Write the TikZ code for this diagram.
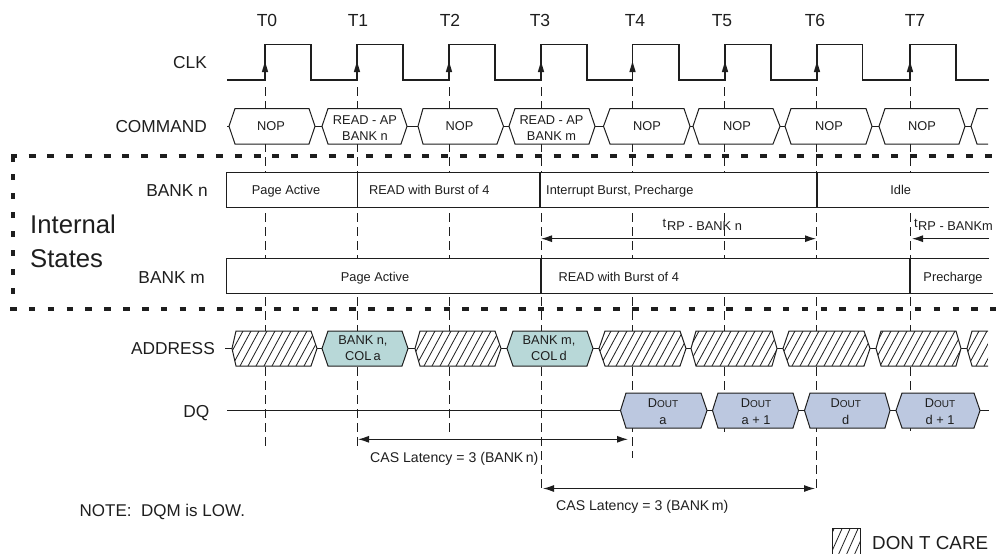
\documentclass[tikz,border=0pt]{standalone}
\usepackage{fontspec}
\setmainfont{Liberation Sans}
\usetikzlibrary{arrows.meta}
\definecolor{ink}{HTML}{1E1E1E}
\definecolor{tealfill}{HTML}{B8D8D8}
\definecolor{bluefill}{HTML}{BCC8E0}
\newcommand\fsz[1]{\fontsize{#1}{#1}\selectfont}
\newcommand\smallout{{\fsz{10}OUT}}
% \bushex{x tip L}{x top L}{x top R}{x tip R}{y top}{y bottom}{fill}
\newcommand\bushex[7]{%
  \filldraw[busline,fill=#7] (#1,{(#5+#6)/2}) -- (#2,#5) -- (#3,#5) -- (#4,{(#5+#6)/2}) -- (#3,#6) -- (#2,#6) -- cycle;}
\newcommand\hatchlines[2]{%
  \foreach \hx in {200,208,...,1016} {\draw[hatchline] (\hx,#2) -- (\hx+19,#1);}}
\newcommand\hatchhex[6]{%
  \filldraw[busline,fill=white] (#1,{(#5+#6)/2}) -- (#2,#5) -- (#3,#5) -- (#4,{(#5+#6)/2}) -- (#3,#6) -- (#2,#6) -- cycle;
  \begin{scope}
    \clip (#1,{(#5+#6)/2}) -- (#2,#5) -- (#3,#5) -- (#4,{(#5+#6)/2}) -- (#3,#6) -- (#2,#6) -- cycle;
    \hatchlines{#5}{#6}
  \end{scope}}
\tikzset{
  busline/.style={draw=ink,line width=1pt,line join=miter},
  hatchline/.style={draw=ink,line width=0.8pt},
  clockline/.style={draw=ink,line width=1.1pt},
  tickline/.style={draw=ink,line width=0.9pt,dash pattern=on 9pt off 5pt},
  statebox/.style={draw=ink,line width=1pt},
  divider/.style={draw=ink,line width=1.2pt},
  thickdivider/.style={draw=ink,line width=1.9pt},
  regionline/.style={draw=ink,line width=4pt},
  span/.style={draw=ink,line width=1.1pt,{Latex[length=11pt,width=7pt]}-{Latex[length=11pt,width=7pt]}},
  spanright/.style={draw=ink,line width=1.1pt,-{Latex[length=11pt,width=7pt]}},
  tick/.style={inner sep=0pt,anchor=base,font=\fsz{17.5},text=ink},
  sig/.style={inner sep=0pt,anchor=base east,font=\fsz{17.3},text=ink},
  lab/.style={inner sep=0pt,anchor=base,font=\fsz{12.8},text=ink,align=center},
  labl/.style={inner sep=0pt,anchor=base west,font=\fsz{12.8},text=ink},
  note/.style={inner sep=0pt,anchor=base west,font=\fsz{14.1},text=ink}
}
\begin{document}
\begin{tikzpicture}[x=1pt,y=-1pt]
\useasboundingbox (0,0) rectangle (996,554);
\clip (0,0) rectangle (996,554);
% dashed tick lines
\draw[tickline] (265,87) -- (265,447);
\draw[tickline] (357,87) -- (357,448);
\draw[tickline] (449,87) -- (449,435);
\draw[tickline] (541,87) -- (541,490);
\draw[tickline] (632.5,87) -- (632.5,458);
\draw[tickline] (724.5,87) -- (724.5,435);
\draw[tickline] (816.5,87) -- (816.5,492);
\draw[tickline] (910,87) -- (910,431);
% tick labels
\node[tick] (lt0) at (267,26) {T0};
\node[tick] (lt1) at (358,26) {T1};
\node[tick] (lt2) at (450,26) {T2};
\node[tick] (lt3) at (540,26) {T3};
\node[tick] (lt4) at (635,26) {T4};
\node[tick] (lt5) at (722,26) {T5};
\node[tick] (lt6) at (815,26) {T6};
\node[tick] (lt7) at (915,26) {T7};
% clock
\draw[clockline] (227,80) -- (265,80) -- (265,44.5) -- (311,44.5) -- (311,80)
  -- (357,80) -- (357,44.5) -- (403,44.5) -- (403,80)
  -- (449,80) -- (449,44.5) -- (495,44.5) -- (495,80)
  -- (541,80) -- (541,44.5) -- (587,44.5) -- (587,80)
  -- (632.5,80) -- (632.5,44.5) -- (679,44.5) -- (679,80)
  -- (725,80) -- (725,44.5) -- (771,44.5) -- (771,80)
  -- (817,80) -- (817,44.5) -- (862.5,44.5) -- (862.5,80)
  -- (910,80) -- (910,44.5) -- (956,44.5) -- (956,80) -- (989,80);
\foreach \xx in {265,357,449,541,632.5,725,817,910}{
  \fill[ink] (\xx,61.5) -- (\xx+3.2,72) -- (\xx-3.2,72) -- cycle;
}
\node[sig] (clk) at (207,68) {CLK};
% command bus
\node[sig] (command) at (207,132) {COMMAND};
\draw[busline] (227,126.25) -- (971,126.25);
\bushex{229}{235}{309}{315}{108.5}{144}{white}
\bushex{322}{328}{401}{407}{108.5}{144}{white}
\bushex{418}{423}{497}{503.5}{108.5}{144}{white}
\bushex{509}{515}{589}{595}{108.5}{144}{white}
\bushex{603.5}{610}{684}{690}{108.5}{144}{white}
\bushex{693}{699}{773}{780}{108.5}{144}{white}
\bushex{785}{791}{866}{872}{108.5}{144}{white}
\bushex{879}{885}{959}{965}{108.5}{144}{white}
\filldraw[busline,fill=white] (988,108.5) -- (977,108.5) -- (971,126.25) -- (977,144) -- (988,144);
\node[lab] (c0) at (271,130) {NOP};
\node[lab] (c1) at (365,140) {READ - AP\\[3pt]BANK n};
\node[lab] (c2) at (459.5,130) {NOP};
\node[lab] (c3) at (551.5,140) {READ - AP\\[3pt]BANK m};
\node[lab] (c4) at (647,130) {NOP};
\node[lab] (c5) at (737,130) {NOP};
\node[lab] (c6) at (829,130) {NOP};
\node[lab] (c7) at (922,130) {NOP};
% bank n
\node[sig] (bankn) at (208,196) {BANK n};
\fill[white] (226,172.3) rectangle (989,207.5);
\draw[statebox] (989,172.3) -- (226,172.3) -- (226,207.5) -- (989,207.5);
\draw[divider] (357.7,172.3) -- (357.7,207.5);
\draw[divider] (540,172.3) -- (540,207.5);
\draw[thickdivider] (817,172.3) -- (817,207.5);
\node[lab] (n1) at (286,194) {Page Active};
\node[labl] (n2) at (369,194) {READ with Burst of 4};
\node[labl] (n3) at (546,194) {Interrupt Burst, Precharge};
\node[lab] (n4) at (900.7,194) {Idle};
% tRP
\coordinate (rpa) at (541,238.7);
\coordinate (rpb) at (816,238.7);
\coordinate (rpc) at (912,238.7);
\coordinate (rpd) at (989,238.7);
\draw[span] (rpa) -- (rpb);
\draw[spanright] (rpd) -- (rpc);
\node[labl] (rp1) at (662.5,227) {t};
\node[labl] (rp2) at (667,230.7) {RP - BANK n};
\node[labl] (rp3) at (914,227) {t};
\node[labl] (rp4) at (918,230.7) {RP - BANKm};
% bank m
\node[sig] (bankm) at (205,283) {BANK m};
\fill[white] (226,258) rectangle (989,293.7);
\draw[statebox] (989,258) -- (226,258) -- (226,293.7) -- (992.7,293.7);
\draw[divider] (541,258) -- (541,293.7);
\draw[thickdivider] (910,258) -- (910,293.7);
\node[lab] (m1) at (375,281) {Page Active};
\node[labl] (m2) at (558.5,281) {READ with Burst of 4};
\node[lab] (m3) at (953,281) {Precharge};
% internal states region
\node[inner sep=0pt,anchor=base west,font=\fsz{25.7},text=ink] (is1) at (30,233) {Internal};
\node[inner sep=0pt,anchor=base west,font=\fsz{25.7},text=ink] (is2) at (30,267.7) {States};
\draw[regionline,line join=miter] (13,162) -- (13,155.5) -- (17,155.5);
\draw[regionline,dash pattern=on 7pt off 11.75pt] (28.5,155.5) -- (996,155.5);
\draw[regionline,dash pattern=on 6pt off 13pt] (13,174.3) -- (13,296);
\draw[regionline,dash pattern=on 6.6pt off 12.25pt] (10,309) -- (996,309);
% address bus
\node[sig] (address) at (215,354.5) {ADDRESS};
\draw[busline] (225,348.5) -- (967,348.5);
\hatchhex{232}{236}{311}{317}{331}{366}
\bushex{322}{328}{402}{408}{331}{366}{tealfill}
\hatchhex{415}{420}{495}{501}{331}{366}
\bushex{507}{513}{587}{593}{331}{366}{tealfill}
\hatchhex{599}{605}{680}{686}{331}{366}
\hatchhex{691}{696}{772}{777}{331}{366}
\hatchhex{783}{789}{864}{870}{331}{366}
\hatchhex{876}{881}{956}{961}{331}{366}
\begin{scope}
  \clip (967,348.5) -- (972,331) -- (988,331) -- (988,366) -- (972,366) -- cycle;
  \fill[white] (967,331) rectangle (988,366);
  \hatchlines{331}{366}
\end{scope}
\draw[busline] (988,331) -- (972,331) -- (967,348.5) -- (972,366) -- (988,366);
\node[lab] (a1) at (363,360.7) {BANK n,\\[3pt]COL\,a};
\node[lab] (a2) at (549,360.7) {BANK m,\\[3pt]COL\,d};
% DQ
\node[sig] (dq) at (209.5,417) {DQ};
\draw[busline] (227,410) -- (989,410);
\bushex{620.5}{626}{701}{707}{393}{428}{bluefill}
\bushex{712.5}{718}{793}{798.5}{393}{428}{bluefill}
\bushex{804.5}{810}{885}{890}{393}{428}{bluefill}
\bushex{896}{902}{974}{980}{393}{428}{bluefill}
\node[lab] (d1) at (663,424.3) {D\smallout\\[3.8pt]a};
\node[lab] (d2) at (756,424.3) {D\smallout\\[3.8pt]a + 1};
\node[lab] (d3) at (845.7,424.3) {D\smallout\\[3.8pt]d};
\node[lab] (d4) at (940,424.3) {D\smallout\\[3.8pt]d + 1};
% CAS
\coordinate (casa) at (358,439.3);
\coordinate (casb) at (628,439.3);
\coordinate (casc) at (543,488.5);
\coordinate (casd) at (815,488.5);
\draw[span] (casa) -- (casb);
\draw[span] (casc) -- (casd);
\node[note] (cas1) at (370,462) {CAS Latency = 3 (BANK\,n)};
\node[note] (cas2) at (556,510.5) {CAS Latency = 3 (BANK\,m)};
\node[inner sep=0pt,anchor=base west,font=\fsz{17},text=ink] (notelab) at (79.5,516) {NOTE:\ \ DQM is LOW.};
% legend
\begin{scope}
  \clip (832,528.7) rectangle (860.7,560);
  \foreach \hx in {820,828,...,860} {\draw[hatchline] (\hx,560) -- (\hx+14,528.7);}
\end{scope}
\draw[busline] (832,556) -- (832,528.7) -- (860.7,528.7) -- (860.7,556);
\node[inner sep=0pt,anchor=base west,font=\fsz{18.8},text=ink] (dc) at (872,549.3) {DON T CARE};
\end{tikzpicture}
\end{document}
